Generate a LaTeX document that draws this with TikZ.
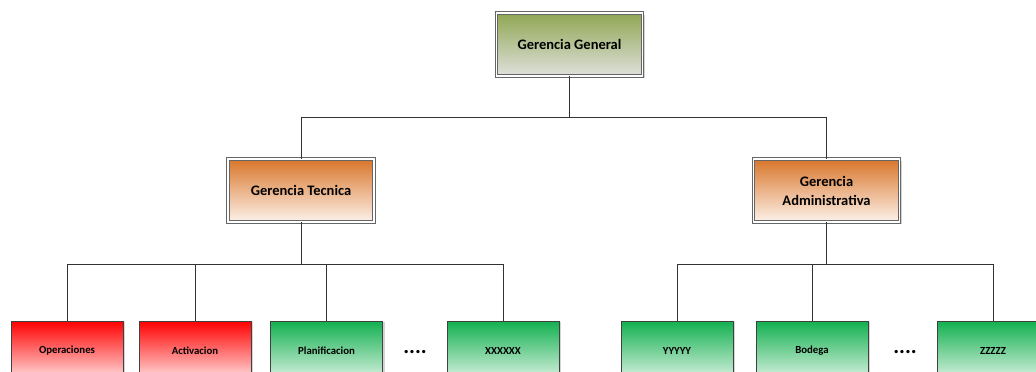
\documentclass[tikz,border=0pt]{standalone}
\usepackage{fontspec}
\setmainfont{Carlito}
\usetikzlibrary{shadows}
\definecolor{olivo}{RGB}{143,167,83}
\definecolor{grisclaro}{RGB}{224,224,220}
\definecolor{naranja}{RGB}{216,117,42}
\definecolor{crema}{RGB}{253,242,234}
\definecolor{rojo}{RGB}{255,0,0}
\definecolor{rosa}{RGB}{255,228,228}
\definecolor{verde}{RGB}{18,176,80}
\definecolor{verdeclaro}{RGB}{222,243,228}

\begin{document}
\begin{tikzpicture}[x=1pt,y=-1pt,
	gerencia/.style={draw=black!60, line width=0.9pt, double=white, double distance=1.3pt, align=center,
		minimum width=146, minimum height=63, inner sep=0,
		font=\bfseries\fontsize{14.5}{19}\selectfont,
		drop shadow={shadow xshift=2pt, shadow yshift=-2pt, opacity=0.35}},
	area/.style={draw=black!75, line width=0.9pt, minimum width=112, minimum height=60, inner sep=0,
		font=\bfseries\fontsize{10.8}{12}\selectfont,
		drop shadow={shadow xshift=2pt, shadow yshift=-1pt, opacity=0.35}},
	puntos/.style={font=\bfseries\fontsize{22}{22}\selectfont},
	rama/.style={draw=black!80, line width=0.7pt}]

	\useasboundingbox (0,0) rectangle (1036,372);
	\clip (0,0) rectangle (1036,372);

	\node (gg) [gerencia, top color=olivo, bottom color=grisclaro] at (569.5,44.5) {Gerencia General};
	\node (gt) [gerencia, top color=naranja, bottom color=crema] at (301,190.5) {Gerencia Tecnica};
	\node (ga) [gerencia, top color=naranja, bottom color=crema] at (826.5,190.5) {Gerencia\\Administrativa};

	\node (op) [area, top color=rojo, bottom color=rosa] at (67,351) {Operaciones};
	\node (ac) [area, top color=rojo, bottom color=rosa] at (195,351) {Activacion};
	\node (pl) [area, top color=verde, bottom color=verdeclaro] at (326.5,351) {Planificacion};
	\node (xx) [area, top color=verde, bottom color=verdeclaro] at (503,351) {XXXXXX};
	\node (yy) [area, top color=verde, bottom color=verdeclaro] at (677,351) {YYYYY};
	\node (bo) [area, top color=verde, bottom color=verdeclaro] at (812,351) {Bodega};
	\node (zz) [area, top color=verde, bottom color=verdeclaro] at (993,351) {ZZZZZ};

	\node (d1) [puntos] at (415,352) {....};
	\node (d2) [puntos] at (905,352) {....};

	\draw [rama] (gg.south) -- ++(0,41) -| (gt.north);
	\draw [rama] (gg.south) -- ++(0,41) -| (ga.north);

	\draw [rama] (gt.south) -- ++(0,42) -| (op.north);
	\draw [rama] (gt.south) -- ++(0,42) -| (ac.north);
	\draw [rama] (gt.south) -- ++(0,42) -| (pl.north);
	\draw [rama] (gt.south) -- ++(0,42) -| (xx.north);

	\draw [rama] (ga.south) -- ++(0,42) -| (yy.north);
	\draw [rama] (ga.south) -- ++(0,42) -| (bo.north);
	\draw [rama] (ga.south) -- ++(0,42) -| (zz.north);

\end{tikzpicture}
\end{document}
